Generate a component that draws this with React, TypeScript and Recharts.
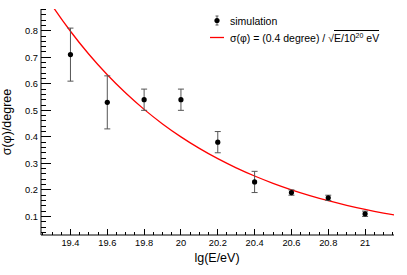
import React from 'react';
import { ComposedChart, Scatter, Line, XAxis, YAxis, ErrorBar } from 'recharts';

const energies = [19.4, 19.6, 19.8, 20.0, 20.2, 20.4, 20.6, 20.8, 21.0];
const sigmas = [0.71, 0.53, 0.54, 0.54, 0.38, 0.23, 0.19, 0.17, 0.11];
const sigmaErrors = [0.1, 0.1, 0.04, 0.04, 0.04, 0.04, 0.01, 0.01, 0.01];

// red reference curve sigma = 0.4 / sqrt(E/1e20), tabulated
const curveX = [19.2, 19.3, 19.4, 19.5, 19.6, 19.7, 19.8, 19.9, 20.0, 20.1, 20.2,
  20.3, 20.4, 20.5, 20.6, 20.7, 20.8, 20.9, 21.0, 21.1, 21.2];
const curveY = [1.005, 0.8955, 0.7981, 0.7113, 0.634, 0.565, 0.5036, 0.4488, 0.4, 0.3565, 0.3177,
  0.2832, 0.2524, 0.2249, 0.2005, 0.1787, 0.1592, 0.1419, 0.1265, 0.1127, 0.1005];

const xTicks = [19.25, 19.3, 19.35, 19.4, 19.45, 19.5, 19.55, 19.6, 19.65, 19.7, 19.75, 19.8,
  19.85, 19.9, 19.95, 20.0, 20.05, 20.1, 20.15, 20.2, 20.25, 20.3, 20.35, 20.4, 20.45, 20.5,
  20.55, 20.6, 20.65, 20.7, 20.75, 20.8, 20.85, 20.9, 20.95, 21.0, 21.05, 21.1, 21.15];
const yTicks = [0.04, 0.06, 0.08, 0.1, 0.12, 0.14, 0.16, 0.18, 0.2, 0.22, 0.24, 0.26, 0.28, 0.3,
  0.32, 0.34, 0.36, 0.38, 0.4, 0.42, 0.44, 0.46, 0.48, 0.5, 0.52, 0.54, 0.56, 0.58, 0.6, 0.62,
  0.64, 0.66, 0.68, 0.7, 0.72, 0.74, 0.76, 0.78, 0.8, 0.82, 0.84, 0.86, 0.88];

const xDomain = [19.24, 21.157];
const yDomain = [0.03, 0.882];

const FONT = '"Liberation Sans", Arial, Helvetica, sans-serif';

const points = energies.map((x, i) => ({ x, y: sigmas[i], err: sigmaErrors[i] }));
const curve = curveX.map((x, i) => ({ x, y: curveY[i] }));

const isMajor = (v: number, step: number) => Math.abs(v / step - Math.round(v / step)) < 1e-6;
const fmt = (v: number) => String(Math.round(v * 10) / 10);

function XTick({ x, y, payload }: any) {
  const major = isMajor(payload.value, 0.2);
  return (
    <g>
      <line x1={x} x2={x} y1={y} y2={y - (major ? 6 : 3)} stroke="#000" shapeRendering="crispEdges" />
      {major && (
        <text x={x} y={y + 11} textAnchor="middle" fontSize={9.3} fontFamily={FONT} fill="#000">
          {fmt(payload.value)}
        </text>
      )}
    </g>
  );
}

function YTick({ x, y, payload }: any) {
  const major = isMajor(payload.value, 0.1);
  return (
    <g>
      <line x1={x} x2={x + (major ? 10 : 5)} y1={y} y2={y} stroke="#000" shapeRendering="crispEdges" />
      {major && (
        <text x={x - 3} y={y + 3.3} textAnchor="end" fontSize={9.3} fontFamily={FONT} fill="#000">
          {fmt(payload.value)}
        </text>
      )}
    </g>
  );
}

function Dot({ cx, cy }: any) {
  return <circle cx={cx} cy={cy} r={2.6} fill="#000" />;
}

function LegendBox() {
  const row: React.CSSProperties = { display: 'flex', alignItems: 'center', height: 17 };
  return (
    <div style={{ position: 'absolute', left: 206, top: 12, fontFamily: FONT, fontSize: 10.5, color: '#000' }}>
      <div style={row}>
        <svg width={22} height={17}>
          <line x1={11} x2={11} y1={4} y2={13} stroke="#555" />
          <line x1={9.5} x2={12.5} y1={4} y2={4} stroke="#555" />
          <line x1={9.5} x2={12.5} y1={13} y2={13} stroke="#555" />
          <circle cx={11} cy={8.5} r={2.6} fill="#000" />
        </svg>
        <span style={{ marginLeft: 2 }}>simulation</span>
      </div>
      <div style={row}>
        <svg width={22} height={17}>
          <line x1={4} x2={18} y1={8.5} y2={8.5} stroke="#f00" strokeWidth={1.3} />
        </svg>
        <span style={{ marginLeft: 2, whiteSpace: 'nowrap' }}>
          σ(φ) = (0.4 degree) / √
          <span style={{ borderTop: '1px solid #000', paddingTop: 1 }}>
            E/10<sup style={{ fontSize: 7, lineHeight: 0 }}>20</sup> eV
          </span>
        </span>
      </div>
    </div>
  );
}

export default function App() {
  return (
    <div style={{ position: 'absolute', left: 0, top: 0, width: 407, height: 275, background: '#fff' }}>
      <ComposedChart width={407} height={275} margin={{ top: 9, right: 13, bottom: 0, left: 0 }}>
        <XAxis dataKey="x" type="number" domain={xDomain} allowDataOverflow ticks={xTicks} interval={0}
          height={40} tickSize={0} tickMargin={0} tickLine={false} tick={<XTick />}
          axisLine={{ stroke: '#000' }}
          label={{
            content: () => (
              <text x={217} y={261.5} textAnchor="middle" fontSize={12.5} fontFamily={FONT} fill="#000">lg(E/eV)</text>
            ),
          }} />
        <XAxis xAxisId="top" orientation="top" type="number" domain={xDomain} allowDataOverflow height={0}
          tick={false} tickLine={false} axisLine={{ stroke: '#666' }} />
        <YAxis dataKey="y" type="number" domain={yDomain} allowDataOverflow ticks={yTicks} interval={0}
          width={41} tickSize={0} tickMargin={0} tickLine={false} tick={<YTick />}
          axisLine={{ stroke: '#000' }}
          label={{
            content: () => (
              <text transform="translate(11,122) rotate(-90)" textAnchor="middle" fontSize={12.5}
                fontFamily={FONT} fill="#000">σ(φ)/degree</text>
            ),
          }} />
        <YAxis yAxisId="right" orientation="right" type="number" domain={yDomain} allowDataOverflow width={0}
          tick={false} tickLine={false} axisLine={{ stroke: '#666' }} />
        <Line data={curve} dataKey="y" type="monotone" stroke="#f00" strokeWidth={1.3} dot={false}
          activeDot={false} isAnimationActive={false} />
        <Scatter data={points} dataKey="y" shape={<Dot />} isAnimationActive={false}>
          <ErrorBar dataKey="err" direction="y" width={3} stroke="#555" strokeWidth={1} />
        </Scatter>
      </ComposedChart>
      <LegendBox />
    </div>
  );
}
